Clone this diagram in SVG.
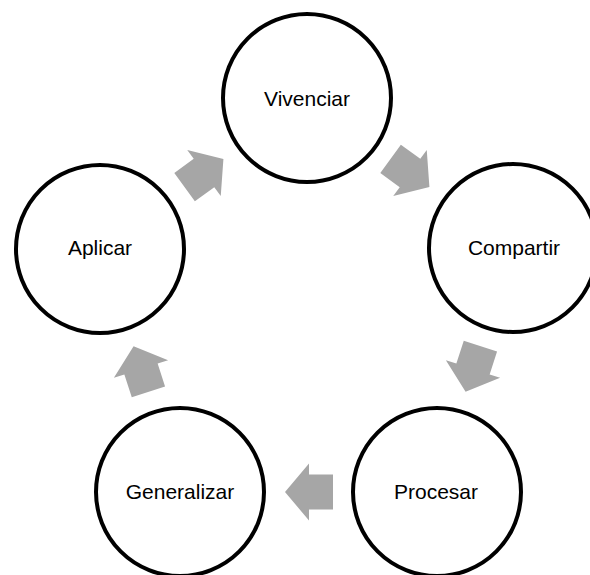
<svg xmlns="http://www.w3.org/2000/svg" width="590" height="575" viewBox="0 0 590 575">
<defs>
<style>
.node circle{fill:#fff;stroke:#000;stroke-width:4}
.node text{font-family:"Liberation Sans",Arial,sans-serif;font-size:21px;fill:#000;text-anchor:middle}
.arrow{fill:#a6a6a6}
</style>
<polygon id="arr" points="-24,-17.5 0,-17.5 0,-28.5 24,0 0,28.5 0,17.5 -24,17.5"/>
</defs>
<rect width="590" height="575" fill="#fff"/>
<g id="connectors">
<use href="#arr" class="arrow" transform="translate(204,173) rotate(-36)"/>
<use href="#arr" class="arrow" transform="translate(410,173) rotate(36)"/>
<use href="#arr" class="arrow" transform="translate(473,369) rotate(108)"/>
<use href="#arr" class="arrow" transform="translate(309,492) rotate(180)"/>
<use href="#arr" class="arrow" transform="translate(141,369) rotate(252)"/>
</g>
<g id="vivenciar" class="node"><circle cx="307" cy="98" r="84"/><text x="307" y="106">Vivenciar</text></g>
<g id="compartir" class="node"><circle cx="513" cy="248" r="84"/><text x="514" y="255">Compartir</text></g>
<g id="procesar" class="node"><circle cx="437" cy="492" r="84"/><text x="436" y="499">Procesar</text></g>
<g id="generalizar" class="node"><circle cx="180" cy="492" r="84"/><text x="180" y="499">Generalizar</text></g>
<g id="aplicar" class="node"><circle cx="100" cy="249" r="84"/><text x="100" y="255">Aplicar</text></g>
</svg>
